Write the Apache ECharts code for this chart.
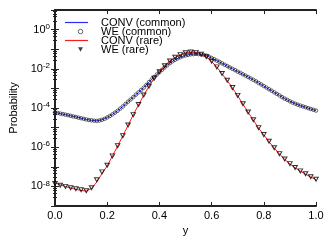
<!DOCTYPE html>
<html><head><meta charset="utf-8">
<script src="https://cdn.jsdelivr.net/npm/echarts@6/dist/echarts.min.js"></script>
<style>html,body{margin:0;padding:0;background:#fff}#c{width:332px;height:246px}</style>
</head><body><div id="c"></div>
<script>
// x grids
const xStepFine = 0.01, xStepCoarse = 0.02;
const xFine = Array.from({length: 101}, (_, i) => +(i * xStepFine).toFixed(2));
const xCoarse = Array.from({length: 51}, (_, i) => +(i * xStepCoarse).toFixed(2));

const xTickLabels = ['0.0', '0.2', '0.4', '0.6', '0.8', '1.0'];
const yLabelExponents = [0, -2, -4, -6, -8];

// WE (common): x = 0.00 .. 1.00 step 0.01
const weCommon = [
  6.0e-5,5.6e-5,5.2e-5,4.9e-5,4.6e-5,4.3e-5,4.0e-5,3.7e-5,3.5e-5,3.2e-5,
  3.0e-5,2.8e-5,2.6e-5,2.45e-5,2.35e-5,2.25e-5,2.2e-5,2.3e-5,2.5e-5,2.8e-5,
  3.3e-5,3.9e-5,4.7e-5,5.8e-5,7.2e-5,9.3e-5,1.2e-4,1.6e-4,2.1e-4,2.75e-4,
  3.6e-4,4.8e-4,6.3e-4,8.3e-4,1.1e-3,1.5e-3,2.1e-3,2.8e-3,3.8e-3,5.1e-3,
  6.8e-3,8.9e-3,1.17e-2,1.5e-2,1.95e-2,2.4e-2,2.9e-2,3.4e-2,3.9e-2,4.4e-2,
  4.8e-2,5.1e-2,5.5e-2,5.6e-2,5.75e-2,5.6e-2,5.5e-2,5.1e-2,4.7e-2,4.1e-2,
  3.55e-2,3.1e-2,2.6e-2,2.25e-2,1.9e-2,1.6e-2,1.38e-2,1.17e-2,1.0e-2,8.5e-3,
  7.2e-3,6.2e-3,5.25e-3,4.5e-3,3.8e-3,3.2e-3,2.75e-3,2.3e-3,1.9e-3,1.6e-3,
  1.32e-3,1.1e-3,9.1e-4,7.6e-4,6.3e-4,5.25e-4,4.4e-4,3.6e-4,3.0e-4,2.6e-4,
  2.2e-4,1.9e-4,1.66e-4,1.48e-4,1.32e-4,1.2e-4,1.1e-4,9.8e-5,8.9e-5,8.1e-5,
  7.4e-5
];
// CONV (common): x = 0.00 .. 1.00 step 0.02
const convCommon = [
  6.0e-5,5.2e-5,4.6e-5,4.0e-5,3.5e-5,3.0e-5,2.6e-5,2.35e-5,2.2e-5,2.5e-5,
  3.3e-5,4.7e-5,7.2e-5,1.2e-4,2.1e-4,3.6e-4,6.3e-4,1.1e-3,2.1e-3,3.8e-3,
  6.8e-3,1.17e-2,1.95e-2,2.9e-2,3.9e-2,4.8e-2,5.5e-2,5.75e-2,5.5e-2,4.7e-2,
  3.55e-2,2.6e-2,1.9e-2,1.38e-2,1.0e-2,7.2e-3,5.25e-3,3.8e-3,2.75e-3,1.9e-3,
  1.32e-3,9.1e-4,6.3e-4,4.4e-4,3.0e-4,2.2e-4,1.66e-4,1.32e-4,1.1e-4,8.9e-5,
  7.4e-5
];
// CONV (rare): x = 0.00 .. 1.00 step 0.02
const convRare = [
  1.51e-8,1.2e-8,9.8e-9,8.3e-9,7.1e-9,6.2e-9,5.75e-9,7.9e-9,1.66e-8,4.5e-8,
  1.12e-7,3.5e-7,1.15e-6,3.8e-6,1.32e-5,4.5e-5,1.45e-4,4.5e-4,1.26e-3,3.2e-3,
  7.0e-3,1.41e-2,2.5e-2,3.8e-2,5.25e-2,6.6e-2,7.2e-2,6.9e-2,5.6e-2,4.0e-2,
  2.4e-2,1.2e-2,5.6e-3,2.5e-3,1.05e-3,4.2e-4,1.58e-4,6.0e-5,2.4e-5,9.5e-6,
  4.2e-6,1.9e-6,8.9e-7,4.5e-7,2.4e-7,1.41e-7,8.9e-8,6.0e-8,4.2e-8,3.0e-8,
  2.2e-8
];
// WE (rare): x = 0.00 .. 1.00 step 0.02
const weRare = [
  1.4e-8,1.15e-8,1.0e-8,8.6e-9,7.6e-9,6.8e-9,6.0e-9,8.5e-9,2.2e-8,5.5e-8,
  1.2e-7,3.6e-7,1.2e-6,3.9e-6,1.35e-5,4.6e-5,1.5e-4,4.6e-4,1.3e-3,3.3e-3,
  7.1e-3,1.42e-2,2.5e-2,3.9e-2,5.3e-2,6.6e-2,7.2e-2,6.9e-2,5.6e-2,4.1e-2,
  2.45e-2,1.25e-2,5.8e-3,2.6e-3,1.1e-3,4.4e-4,1.65e-4,6.3e-5,2.5e-5,1.0e-5,
  4.4e-6,2.0e-6,9.3e-7,4.7e-7,2.5e-7,1.45e-7,9.2e-8,6.2e-8,4.4e-8,3.1e-8,
  2.3e-8
];

const pair = (xs, ys) => xs.map((x, i) => [x, ys[i]]);
const font = 'Liberation Sans, Arial, sans-serif';
const BLUE = '#2b2bff', RED = '#ff1a1a';

const chart = echarts.init(document.getElementById('c'), null, {renderer: 'canvas'});
const axisLine = {show: true, lineStyle: {color: '#222', width: 2}};
const tick = {show: true, inside: true, length: 4, lineStyle: {color: '#222', width: 1}};
const minorTick = {show: true, splitNumber: 5, length: 2, lineStyle: {color: '#222', width: 1}};

const yLabelFmt = v => {
  const e = Math.round(Math.log10(v));
  return yLabelExponents.indexOf(e) >= 0 ? '10{s|' + e + '}' : '';
};
// legend icons, padded on the right so the text sits a little further away
const lineIcon = 'path://M0,0L23,0L23,1.2L0,1.2ZM31,0.6';
const circIcon = 'path://M0,2a2,2 0 1,0 4,0a2,2 0 1,0 -4,0ZM-2,2M6,2';
const triIcon = 'path://M0,0L10,0L5,9Z';
const triLegend = 'path://M0,0L4.4,0L2.2,4ZM-2,2M6.4,2';

chart.setOption({
  animation: false,
  textStyle: {fontFamily: font},
  grid: {left: 55, right: 16, top: 10, bottom: 40},
  legend: {
    orient: 'vertical', left: 65, top: 17, padding: 0, itemWidth: 31, itemHeight: 4.5, itemGap: -2,
    textStyle: {fontSize: 11, color: '#000', lineHeight: 10, fontFamily: font},
    data: [
      {name: 'CONV (common)', icon: lineIcon, itemStyle: {color: BLUE, borderWidth: 0}},
      {name: 'WE (common)', icon: circIcon, itemStyle: {color: 'rgba(0,0,0,0)', borderColor: '#111', borderWidth: 0.8}},
      {name: 'CONV (rare)', icon: lineIcon, itemStyle: {color: RED, borderWidth: 0}},
      {name: 'WE (rare)', icon: triLegend, itemStyle: {color: '#111', borderWidth: 0}}
    ]
  },
  xAxis: [
    {type: 'value', min: 0, max: 1, interval: 0.2, position: 'bottom',
     name: 'y', nameLocation: 'middle', nameGap: 18,
     nameTextStyle: {fontSize: 11, color: '#000', fontFamily: font},
     axisLine, axisTick: tick, splitLine: {show: false},
     axisLabel: {fontSize: 11, color: '#000', margin: 4, fontFamily: font,
                 formatter: (v) => xTickLabels[Math.round(v / 0.2)]}},
    {type: 'value', min: 0, max: 1, interval: 0.2, position: 'top',
     axisLine, axisTick: tick, splitLine: {show: false}, axisLabel: {show: false}}
  ],
  yAxis: [
    {type: 'log', logBase: 10, min: 1e-9, max: 10, interval: 1, position: 'left',
     name: 'Probability', nameLocation: 'middle', nameGap: 36,
     nameTextStyle: {fontSize: 11, color: '#000', fontFamily: font},
     axisLine, axisTick: tick, minorTick, splitLine: {show: false}, minorSplitLine: {show: false},
     axisLabel: {fontSize: 11, color: '#000', margin: 5, fontFamily: font,
                 showMinLabel: false, showMaxLabel: false,
                 formatter: yLabelFmt,
                 rich: {s: {fontSize: 8, verticalAlign: 'top', padding: [0, 0, 6, 0], fontFamily: font, color: '#000'}}}},
    {type: 'log', logBase: 10, min: 1e-9, max: 10, interval: 1, position: 'right',
     axisLine, axisTick: tick, minorTick, splitLine: {show: false}, axisLabel: {show: false}}
  ],
  series: [
    {name: 'CONV (common)', type: 'line', data: pair(xCoarse, convCommon), showSymbol: false, symbol: 'none',
     lineStyle: {color: BLUE, width: 1}, itemStyle: {color: BLUE}, z: 2},
    {name: 'WE (common)', type: 'scatter', data: pair(xFine, weCommon), symbol: 'circle', symbolSize: 3.5,
     itemStyle: {color: 'rgba(0,0,0,0)', borderColor: '#111', borderWidth: 0.8}, z: 3},
    {name: 'CONV (rare)', type: 'line', data: pair(xCoarse, convRare), showSymbol: false, symbol: 'none',
     lineStyle: {color: RED, width: 1}, itemStyle: {color: RED}, z: 4},
    {name: 'WE (rare)', type: 'scatter', data: pair(xCoarse, weRare), symbol: triIcon, symbolSize: [4.5, 4],
     itemStyle: {color: 'rgba(0,0,0,0)', borderColor: '#000', borderWidth: 1}, z: 5}
  ]
});
</script></body></html>
